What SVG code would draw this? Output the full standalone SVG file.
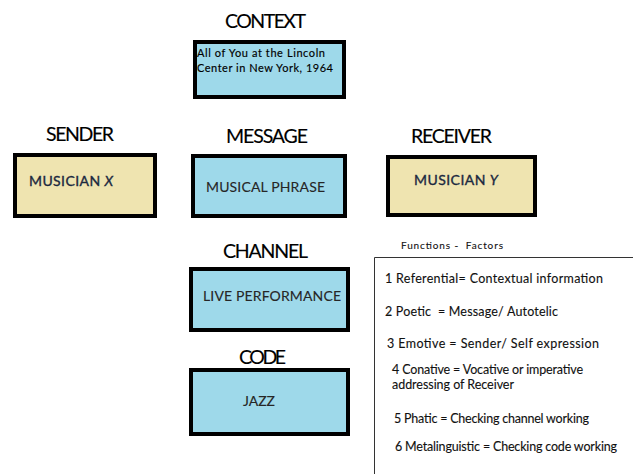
<svg xmlns="http://www.w3.org/2000/svg" width="633" height="474" viewBox="0 0 633 474">
<style>
  .box { stroke: #000; stroke-width: 4; }
  .blue { fill: #9ed9ea; }
  .tan { fill: #efe4b0; }
  .title { font-family: Lato, "Liberation Sans", sans-serif; font-size: 19.5px; fill: #000; stroke: #000; stroke-width: 0.15; }
  .inner { font-family: Lato, "Liberation Sans", sans-serif; font-size: 14px; fill: #262626; stroke: #262626; stroke-width: 0.12; }
  .mus { fill: #1b2940; stroke: #1b2940; stroke-width: 0.35; }
  .ctx { font-family: Lato, "Liberation Sans", sans-serif; font-size: 11px; fill: #000; stroke: #000; stroke-width: 0.15; }
  .fn { font-family: Lato, "Liberation Sans", sans-serif; font-size: 12.5px; fill: #111; stroke: #111; stroke-width: 0.12; }
  .fnh { font-family: Lato, "Liberation Sans", sans-serif; font-size: 10px; fill: #111; stroke: #111; stroke-width: 0.1; }
</style>
<rect width="633" height="474" fill="#fff"/>
<g id="context">
  <text class="title" x="225" y="28" textLength="81">CONTEXT</text>
  <rect class="box blue" x="195" y="42" width="149" height="55"/>
  <text class="ctx" x="197" y="57" textLength="128">All of You at the Lincoln</text>
  <text class="ctx" x="197" y="72" textLength="136">Center in New York, 1964</text>
</g>
<g id="sender">
  <text class="title" x="46" y="141" textLength="68">SENDER</text>
  <rect class="box tan" x="15" y="155" width="140" height="61"/>
  <text class="inner mus" x="29" y="186" textLength="84">MUSICIAN <tspan font-style="italic">X</tspan></text>
</g>
<g id="message">
  <text class="title" x="226" y="143" textLength="82">MESSAGE</text>
  <rect class="box blue" x="193" y="156" width="152" height="60"/>
  <text class="inner" x="206" y="192" textLength="119">MUSICAL PHRASE</text>
</g>
<g id="receiver">
  <text class="title" x="411" y="143" textLength="81">RECEIVER</text>
  <rect class="box tan" x="388" y="157" width="147" height="58"/>
  <text class="inner mus" x="414" y="185" textLength="84">MUSICIAN <tspan font-style="italic">Y</tspan></text>
</g>
<g id="channel">
  <text class="title" x="223" y="258" textLength="85">CHANNEL</text>
  <rect class="box blue" x="191" y="269" width="157" height="61"/>
  <text class="inner" x="203" y="301" textLength="138">LIVE PERFORMANCE</text>
</g>
<g id="code">
  <text class="title" x="239" y="364" textLength="47">CODE</text>
  <rect class="box blue" x="191" y="370" width="157" height="64"/>
  <text class="inner" x="243" y="406" textLength="32">JAZZ</text>
</g>
<g id="functions">
  <text class="fnh" x="401" y="249" textLength="102" xml:space="preserve">Functions -  Factors</text>
  <path d="M374.5 474 V257.5 H633" fill="none" stroke="#333" stroke-width="1"/>
  <text class="fn" x="385" y="283" textLength="218">1 Referential= Contextual information</text>
  <text class="fn" x="385" y="316" textLength="173" xml:space="preserve">2 Poetic  = Message/ Autotelic</text>
  <text class="fn" x="387" y="348" textLength="212">3 Emotive = Sender/ Self expression</text>
  <text class="fn" x="392" y="374" textLength="191">4 Conative = Vocative or imperative</text>
  <text class="fn" x="392" y="389" textLength="122">addressing of Receiver</text>
  <text class="fn" x="394" y="423" textLength="195">5 Phatic = Checking channel working</text>
  <text class="fn" x="395" y="451" textLength="222">6 Metalinguistic = Checking code working</text>
</g>
<g id="connectors"></g>
</svg>
